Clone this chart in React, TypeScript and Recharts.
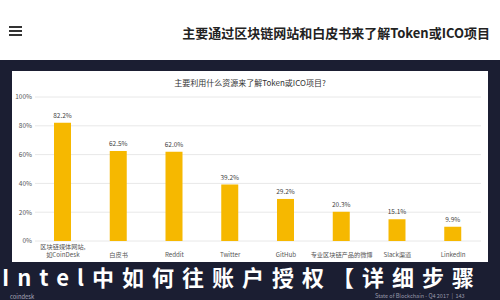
import { BarChart, Bar, XAxis, YAxis, CartesianGrid, LabelList } from 'recharts';

const categories = [
  '区块链媒体网站,\n如CoinDesk',
  '白皮书',
  'Reddit',
  'Twitter',
  'GitHub',
  '专业区块链产品的微博',
  'Slack渠道',
  'LinkedIn',
];
const values = [82.2, 62.5, 62.0, 39.2, 29.2, 20.3, 15.1, 9.9];
const yTicks = [0, 20, 40, 60, 80, 100];

const data = categories.map((name, i) => ({ name, share: values[i] }));

const font = '"Noto Sans CJK SC", "Noto Sans", sans-serif';

function CategoryTick(props: any) {
  const { x, y, payload } = props;
  const lines: string[] = String(payload.value).split('\n');
  const last = y + 15.5;
  return (
    <g>
      {lines.map((line, i) => (
        <text
          key={i}
          x={x}
          y={last - (lines.length - 1 - i) * 8}
          textAnchor="middle"
          fontSize={6.2}
          fill="#555"
          fontFamily={font}
        >
          {line}
        </text>
      ))}
    </g>
  );
}

export default function App() {
  return (
    <div
      style={{
        position: 'absolute',
        left: 0,
        top: 0,
        width: 500,
        height: 300,
        overflow: 'hidden',
        background: '#fff',
        fontFamily: font,
      }}
    >
      {/* header */}
      <div style={{ position: 'absolute', left: 9, top: 26 }}>
        {[0, 4, 8].map((t) => (
          <div
            key={t}
            style={{ position: 'absolute', top: t, width: 13, height: 2, background: '#333' }}
          />
        ))}
      </div>
      <div
        style={{
          position: 'absolute',
          right: 10,
          top: 23,
          fontSize: 13,
          fontWeight: 'bold',
          color: '#222',
          whiteSpace: 'nowrap',
        }}
      >
        主要通过区块链网站和白皮书来了解Token或ICO项目
      </div>

      {/* dark slide area */}
      <div
        style={{ position: 'absolute', left: 0, top: 60, width: 500, height: 240, background: '#1b1e32' }}
      />
      <div
        style={{ position: 'absolute', left: 12, top: 71, width: 476, height: 191, background: '#fff' }}
      />
      <div
        style={{
          position: 'absolute',
          left: 0,
          width: 500,
          top: 77,
          textAlign: 'center',
          fontSize: 8,
          color: '#333',
        }}
      >
        主要利用什么资源来了解Token或ICO项目?
      </div>

      <div style={{ position: 'absolute', left: 0, top: 0 }}>
        <BarChart
          width={500}
          height={300}
          data={data}
          margin={{ top: 97, right: 19, bottom: 39, left: 10 }}
        >
          <CartesianGrid vertical={false} stroke="#e8e8e8" />
          <XAxis
            dataKey="name"
            axisLine={false}
            tickLine={false}
            tickSize={0}
            tickMargin={0}
            height={20}
            interval={0}
            tick={<CategoryTick />}
          />
          <YAxis
            domain={[0, 100]}
            ticks={yTicks}
            tickFormatter={(v: number) => v + '%'}
            axisLine={false}
            tickLine={false}
            tickSize={0}
            tickMargin={3}
            width={25}
            tick={{ fontSize: 6.5, fill: '#555', fontFamily: font }}
          />
          <Bar dataKey="share" fill="#f6b800" barSize={17} isAnimationActive={false}>
            <LabelList
              dataKey="share"
              position="top"
              fontSize={6.5}
              fill="#444"
              fontFamily={font}
              formatter={(v: any) => Number(v).toFixed(1) + '%'}
            />
          </Bar>
        </BarChart>
      </div>

      {/* overlay caption */}
      <div
        style={{
          position: 'absolute',
          left: 2,
          top: 259.5,
          fontSize: 22,
          fontWeight: 'bold',
          letterSpacing: 8,
          color: '#fff',
          whiteSpace: 'nowrap',
        }}
      >
        Intel中如何往账户授权【详细步骤
      </div>
      <div
        style={{ position: 'absolute', left: 10, top: 291.5, fontSize: 5.8, color: '#aab' }}
      >
        coindesk
      </div>
      <div
        style={{
          position: 'absolute',
          left: 375,
          top: 291.5,
          fontSize: 5.5,
          color: '#99a',
          whiteSpace: 'nowrap',
        }}
      >
        State of Blockchain - Q4 2017 &nbsp;|&nbsp; 143
      </div>
    </div>
  );
}
